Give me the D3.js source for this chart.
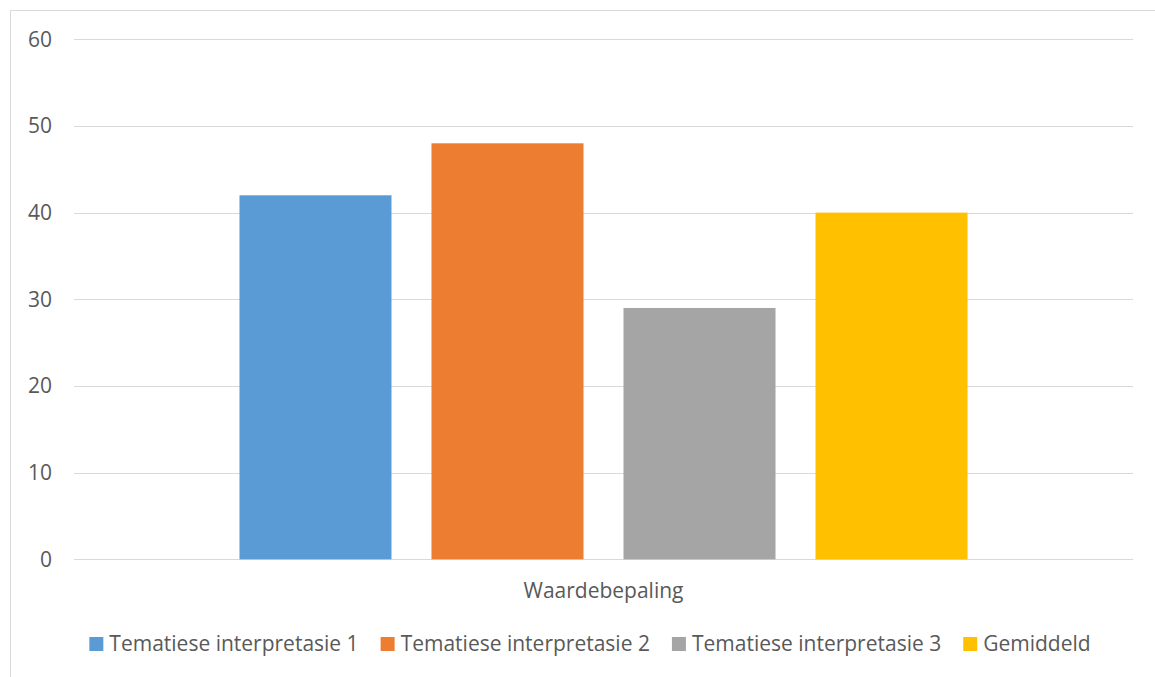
<!DOCTYPE html>
<html>
<head>
<meta charset="utf-8">
<script src="https://cdn.jsdelivr.net/npm/d3@7"></script>
<style>
  html, body { margin: 0; padding: 0; background: #fff; }
  svg { display: block; }
  text { font-family: "Open Sans", "Noto Sans", sans-serif; fill: #595959; font-variant-ligatures: none; }
</style>
</head>
<body>
<svg id="chart" width="1155" height="677"></svg>
<script>
// Chart data
const categories = ["Waardebepaling"];
const seriesNames = ["Tematiese interpretasie 1", "Tematiese interpretasie 2", "Tematiese interpretasie 3", "Gemiddeld"];
const seriesValues = [42, 48, 29, 40];
const seriesColors = ["#5B9BD5", "#ED7D31", "#A5A5A5", "#FFC000"];
const yTicks = [0, 10, 20, 30, 40, 50, 60];

const svg = d3.select("#chart");
const W = 1155, H = 677;
const FONT = 21;

// Chart frame
svg.append("rect")
  .attr("x", 10.5).attr("y", 10.5)
  .attr("width", W + 10).attr("height", H + 10)
  .attr("fill", "none").attr("stroke", "#D9D9D9").attr("stroke-width", 1);

const plot = { left: 74, right: 1133, top: 39.3, bottom: 559.3 };

const y = d3.scaleLinear().domain([0, 60]).range([plot.bottom, plot.top]);

const x0 = d3.scaleBand().domain(categories)
  .range([plot.left, plot.right]).paddingInner(0).paddingOuter(0.2273);
const x1 = d3.scaleBand().domain(seriesNames)
  .range([0, x0.bandwidth()]).paddingInner(0.2083).paddingOuter(0);

// Gridlines
svg.append("g").selectAll("line").data(yTicks).join("line")
  .attr("x1", plot.left).attr("x2", plot.right)
  .attr("y1", d => Math.round(y(d)) + 0.5).attr("y2", d => Math.round(y(d)) + 0.5)
  .attr("stroke", "#D9D9D9").attr("stroke-width", 1);

// Y axis labels
const yAxis = d3.axisLeft(y).tickValues(yTicks).tickSize(0).tickPadding(0);
const gy = svg.append("g").attr("transform", `translate(52,0)`).call(yAxis);
gy.select(".domain").remove();
gy.selectAll("text").attr("font-size", FONT).attr("fill", "#595959")
  .style("font-family", "'Open Sans', 'Noto Sans', sans-serif");

// Bars
const groups = svg.append("g").selectAll("g").data(categories).join("g")
  .attr("transform", d => `translate(${x0(d)},0)`);
groups.selectAll("rect")
  .data(() => seriesNames.map((s, i) => ({ s, v: seriesValues[i], c: seriesColors[i] })))
  .join("rect")
  .attr("x", d => x1(d.s))
  .attr("width", x1.bandwidth())
  .attr("y", d => y(d.v))
  .attr("height", d => y(0) - y(d.v))
  .attr("fill", d => d.c);

// Category axis label
const xAxis = d3.axisBottom(x0).tickSize(0).tickPadding(0);
const gx = svg.append("g").attr("transform", `translate(0,${plot.bottom})`).call(xAxis);
gx.select(".domain").remove();
gx.selectAll("text").attr("font-size", FONT).attr("fill", "#595959")
  .attr("dy", null).attr("y", 38.7)
  .style("font-family", "'Open Sans', 'Noto Sans', sans-serif");

// Legend
const legend = svg.append("g");
const items = legend.selectAll("g").data(seriesNames).join("g");
items.append("rect").attr("width", 14).attr("height", 14)
  .attr("y", 637).attr("fill", (d, i) => seriesColors[i]);
items.append("text").attr("x", 20).attr("y", 651)
  .attr("font-size", FONT).text(d => d);
const widths = [];
items.each(function () {
  widths.push(20 + d3.select(this).select("text").node().getComputedTextLength());
});
const gap = 22;
const total = d3.sum(widths) + gap * (widths.length - 1);
const startX = 590 - total / 2;
let cursor = 0;
items.attr("transform", (d, i) => {
  const t = `translate(${startX + cursor},0)`;
  cursor += widths[i] + gap;
  return t;
});
</script>
</body>
</html>
